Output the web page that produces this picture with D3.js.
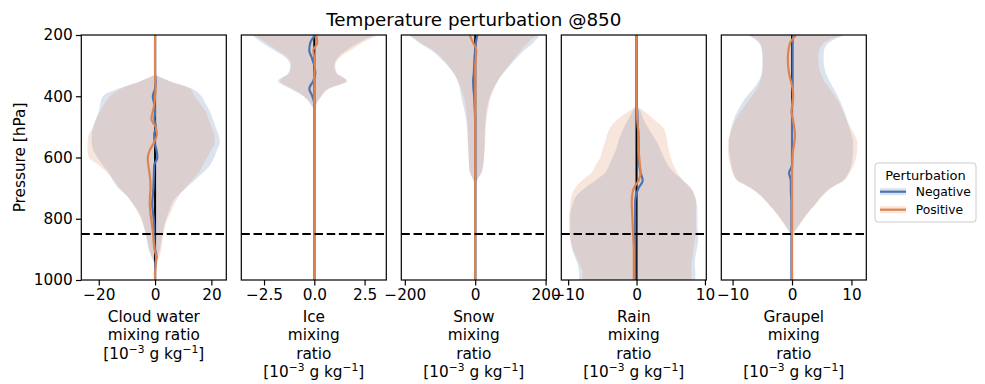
<!DOCTYPE html>
<html>
<head>
<meta charset="utf-8">
<script src="https://cdn.jsdelivr.net/npm/d3@7"></script>
<style>
  body { margin: 0; background: #fff; }
  text { font-family: "DejaVu Sans", sans-serif; fill: #000; }
</style>
</head>
<body>
<svg id="chart"></svg>
<script>
// pressure levels [hPa]
const pressure = [200, 225, 250, 275, 300, 325, 350, 375, 400, 425, 450, 475, 500, 525, 550, 575, 600,
                  625, 650, 675, 700, 725, 750, 775, 800, 825, 850, 875, 900, 925, 950, 975, 1000];

// Cloud water
const cwNegLo = [0, 0, 0, 0, 0, 0, -5, -13, -18.5, -19.5, -20, -21, -22, -22.5, -22.5, -22, -20.5, -18.5, -16.5, -15, -13, -10, -8, -6, -4.8, -4, -3.4, -2.8, -2.3, -1.2, 0, 0, 0];
const cwNegHi = [0, 0, 0, 0, 0, 0, 5, 13, 16.5, 18, 19.5, 20.5, 21.5, 22.5, 23, 22, 21, 19.5, 17, 14, 11, 8, 6, 5, 4, 3.2, 2.7, 2.2, 1.7, 0.8, 0, 0, 0];
const cwNegMean = [0, 0, 0, 0, 0, 0, 0.2, 0, -0.8, -0.3, 0, -0.2, 0.3, -0.3, -0.2, 0.5, 0.8, -0.3, -0.4, -0.5, -0.6, -0.8, -1.0, -0.8, -0.5, -0.3, -0.3, -0.2, 0, 0.5, 0, 0, 0];
const cwPosLo = [0, 0, 0, 0, 0, 0, -5, -12, -16, -18, -19.5, -21, -22, -23.5, -24, -24, -23.5, -20, -17, -14.5, -12.5, -10, -8, -6.5, -5, -4, -3.2, -2.6, -2, -1.2, -0.3, 0, 0];
const cwPosHi = [0, 0, 0, 0, 0, 0, 5, 12.5, 14, 16, 18, 19, 20, 21, 21.2, 20, 18.5, 17, 15.5, 13, 10.5, 8.5, 7, 5.8, 4.5, 3.5, 3, 2.5, 2.2, 1.5, 0.5, 0, 0];
const cwPosMean = [0, 0, 0, 0, 0, 0, 0, 0.2, 0, -0.2, -0.8, -1.3, 0.2, 0.6, -0.3, -1.8, -2.6, -2.4, -2.0, -1.7, -1.6, -1.8, -1.9, -1.7, -1.4, -1.0, -0.7, -0.5, -0.2, 0.4, 0.3, 0, 0];

// Ice
const iceNegLo = [-3.1, -2.6, -2.0, -1.4, -1.2, -1.3, -1.8, -1.2, -0.55, -0.2, 0, 0, 0, 0, 0, 0, 0, 0, 0, 0, 0, 0, 0, 0, 0, 0, 0, 0, 0, 0, 0, 0, 0];
const iceNegHi = [3.0, 2.2, 1.6, 1.15, 1.0, 1.1, 1.6, 0.7, 0.35, 0.1, 0, 0, 0, 0, 0, 0, 0, 0, 0, 0, 0, 0, 0, 0, 0, 0, 0, 0, 0, 0, 0, 0, 0];
const iceNegMean = [0.05, -0.2, -0.25, -0.12, 0, 0.05, -0.05, -0.25, -0.1, 0, 0, 0, 0, 0, 0, 0, 0, 0, 0, 0, 0, 0, 0, 0, 0, 0, 0, 0, 0, 0, 0, 0, 0];
const icePosLo = [-3.0, -2.4, -1.85, -1.3, -1.15, -1.25, -1.7, -1.1, -0.5, -0.15, 0, 0, 0, 0, 0, 0, 0, 0, 0, 0, 0, 0, 0, 0, 0, 0, 0, 0, 0, 0, 0, 0, 0];
const icePosHi = [3.2, 2.4, 1.8, 1.25, 1.05, 1.15, 1.65, 0.75, 0.35, 0.1, 0, 0, 0, 0, 0, 0, 0, 0, 0, 0, 0, 0, 0, 0, 0, 0, 0, 0, 0, 0, 0, 0, 0];
const icePosMean = [0.1, 0.15, -0.05, 0, 0.03, 0, 0, 0, 0, 0, 0, 0, 0, 0, 0, 0, 0, 0, 0, 0, 0, 0, 0, 0, 0, 0, 0, 0, 0, 0, 0, 0, 0];

// Snow
const snowNegLo = [-190, -160, -125, -100, -78, -62, -50, -44, -40, -35, -30, -26, -23, -22, -21, -20, -19, -18, -15, -5, 0, 0, 0, 0, 0, 0, 0, 0, 0, 0, 0, 0, 0];
const snowNegHi = [185, 165, 140, 118, 98, 80, 64, 52, 42, 36, 32, 30, 28, 27, 27, 26, 25, 23, 18, 5, 0, 0, 0, 0, 0, 0, 0, 0, 0, 0, 0, 0, 0];
const snowNegMean = [6, 2, 0, -2, -3, -4, -6, -5, -3, -2, -1, 0, 0, 0, 0, 0, 0, 0, 0, 0, 0, 0, 0, 0, 0, 0, 0, 0, 0, 0, 0, 0, 0];
const snowPosLo = [-185, -155, -120, -95, -76, -60, -48, -40, -33, -28, -25, -23, -22, -21, -20, -19, -18, -17, -14, -5, 0, 0, 0, 0, 0, 0, 0, 0, 0, 0, 0, 0, 0];
const snowPosHi = [175, 150, 130, 112, 95, 78, 64, 54, 45, 40, 35, 32, 30, 29, 28, 27, 25, 22, 17, 4, 0, 0, 0, 0, 0, 0, 0, 0, 0, 0, 0, 0, 0];
const snowPosMean = [-16, -6, 3, 2, 0, 0, 0, 0, 0, 0, 0, 0, 0, 0, 0, 0, 0, 0, 0, 0, 0, 0, 0, 0, 0, 0, 0, 0, 0, 0, 0, 0, 0];

// Rain
const rainNegLo = [0, 0, 0, 0, 0, 0, 0, 0, 0, 0, -0.6, -1.2, -1.8, -2.3, -2.7, -3.0, -3.5, -4.0, -4.6, -6.0, -7.6, -8.8, -9.3, -9.6, -9.7, -9.7, -9.7, -9.6, -9.4, -9.0, -8.6, -8.4, -8.4];
const rainNegHi = [0, 0, 0, 0, 0, 0, 0, 0, 0, 0, 0.6, 1.0, 1.6, 2.3, 3.0, 3.5, 4.0, 4.6, 5.5, 6.8, 7.9, 8.5, 8.8, 8.9, 8.9, 8.9, 9.0, 9.0, 8.8, 8.6, 8.5, 8.6, 8.6];
const rainNegMean = [0, 0, 0, 0, 0, 0, 0, 0, 0, 0, 0.1, 0.15, 0.2, 0.25, 0.3, 0.3, 0.3, 0.4, 0.6, 0.9, 0.3, -0.1, -0.2, -0.2, -0.2, -0.2, -0.2, -0.2, -0.2, -0.2, -0.2, -0.2, -0.2];
const rainPosLo = [0, 0, 0, 0, 0, 0, 0, 0, 0, 0, -1.2, -2.8, -3.8, -4.3, -4.6, -5.0, -5.3, -6.0, -6.6, -8.0, -9.0, -9.5, -9.7, -9.8, -9.9, -9.9, -9.8, -9.6, -9.3, -8.8, -8.3, -7.9, -7.9];
const rainPosHi = [0, 0, 0, 0, 0, 0, 0, 0, 0, 0, 1.2, 2.5, 3.8, 4.3, 4.5, 4.7, 5.0, 5.4, 6.0, 6.8, 8.0, 8.5, 8.7, 8.7, 8.7, 8.7, 8.6, 8.5, 8.3, 8.2, 8.0, 8.0, 8.0];
const rainPosMean = [0, 0, 0, 0, 0, 0, 0, 0, 0, 0, 0.05, 0.1, 0.2, 0.3, 0.3, 0.3, 0.4, 0.5, 0.6, 0.3, -0.4, -0.65, -0.7, -0.65, -0.6, -0.55, -0.5, -0.45, -0.4, -0.4, -0.4, -0.4, -0.4];

// Graupel
const grNegLo = [-7.4, -5.6, -5.1, -5.0, -5.0, -5.1, -5.6, -6.5, -7.6, -8.5, -9.2, -9.8, -10.2, -10.4, -10.6, -10.6, -10.4, -10.2, -9.9, -9.1, -6.8, -5.2, -4.0, -2.9, -1.9, -1.0, -0.2, 0, 0, 0, 0, 0, 0];
const grNegHi = [8.8, 6.2, 5.4, 5.3, 5.4, 5.7, 6.3, 7.0, 7.7, 8.3, 8.8, 9.2, 9.6, 10.0, 10.3, 10.3, 10.2, 10.0, 9.5, 8.6, 6.4, 5.0, 4.0, 2.9, 1.9, 1.0, 0.2, 0, 0, 0, 0, 0, 0];
const grNegMean = [0.2, 0.1, 0.1, 0.1, 0.1, 0.1, 0.1, 0.1, 0.1, 0.05, 0, 0, 0, 0, 0, 0, 0, 0, -0.5, -0.2, -0.2, -0.15, -0.1, -0.1, -0.1, -0.1, -0.1, -0.1, -0.1, -0.1, -0.1, -0.1, -0.1];
const grPosLo = [-7.2, -5.4, -5.0, -4.9, -4.9, -5.0, -5.3, -5.9, -6.8, -7.7, -8.6, -9.4, -10.0, -10.5, -10.8, -10.8, -10.7, -10.4, -10.0, -9.3, -7.0, -5.3, -4.1, -3.0, -2.0, -1.1, -0.3, 0, 0, 0, 0, 0, 0];
const grPosHi = [8.6, 5.4, 4.6, 4.4, 4.5, 4.8, 5.4, 6.3, 7.2, 8.0, 8.6, 9.2, 9.8, 10.5, 11.0, 11.0, 10.8, 10.4, 9.7, 8.8, 6.6, 5.2, 4.1, 3.0, 2.0, 1.1, 0.3, 0, 0, 0, 0, 0, 0];
const grPosMean = [0.7, -0.3, -0.6, -0.7, -0.65, -0.5, -0.2, 0.1, 0.2, 0.05, -0.1, 0.15, 0.35, 0.5, 0.4, 0.2, 0.1, 0.05, 0, 0, 0, 0, 0, 0, 0, 0, 0, 0, 0, 0, 0, 0, 0];

// axis ticks / names
const yTicks = [200, 400, 600, 800, 1000];
const cwTicks = [-20, 0, 20];
const iceTicks = [-2.5, 0, 2.5];
const snowTicks = [-200, 0, 200];
const rainTicks = [-10, 0, 10];
const grTicks = [-10, 0, 10];
const seriesNames = ["Negative", "Positive"];
const seriesColors = ["#4c72b0", "#dd8452"];
const level = 850;

const width = 985, height = 384;
const plotTop = 35, plotBottom = 280;
const panelW = 145, panelStep = 160, firstLeft = 81.3;

const panels = [
    { name: ["Cloud water", "mixing ratio"], domain: [-26.2, 25.3], ticks: cwTicks, fmt: d3.format("d"),
      series: [{ lo: cwNegLo, hi: cwNegHi, mean: cwNegMean }, { lo: cwPosLo, hi: cwPosHi, mean: cwPosMean }] },
    { name: ["Ice", "mixing", "ratio"], domain: [-3.63, 3.58], ticks: iceTicks, fmt: d3.format(".1f"),
      series: [{ lo: iceNegLo, hi: iceNegHi, mean: iceNegMean }, { lo: icePosLo, hi: icePosHi, mean: icePosMean }] },
    { name: ["Snow", "mixing", "ratio"], domain: [-210, 202], ticks: snowTicks, fmt: d3.format("d"),
      series: [{ lo: snowNegLo, hi: snowNegHi, mean: snowNegMean }, { lo: snowPosLo, hi: snowPosHi, mean: snowPosMean }] },
    { name: ["Rain", "mixing", "ratio"], domain: [-11.0, 10.2], ticks: rainTicks, fmt: d3.format("d"),
      series: [{ lo: rainNegLo, hi: rainNegHi, mean: rainNegMean }, { lo: rainPosLo, hi: rainPosHi, mean: rainPosMean }] },
    { name: ["Graupel", "mixing", "ratio"], domain: [-11.9, 12.5], ticks: grTicks, fmt: d3.format("d"),
      series: [{ lo: grNegLo, hi: grNegHi, mean: grNegMean }, { lo: grPosLo, hi: grPosHi, mean: grPosMean }] }
];

const svg = d3.select("#chart").attr("width", width).attr("height", height);
const yScale = d3.scaleLinear().domain([200, 1000]).range([plotTop, plotBottom]);

panels.forEach((pn, k) => {
    const left = firstLeft + k * panelStep;
    const xScale = d3.scaleLinear().domain(pn.domain).range([left, left + panelW]);
    const g = svg.append("g");

    g.append("clipPath").attr("id", "clip" + k)
        .append("rect").attr("x", left).attr("y", plotTop).attr("width", panelW).attr("height", plotBottom - plotTop);
    const plot = g.append("g").attr("clip-path", `url(#clip${k})`);

    const rows = pn.series.map(s => pressure.map((p, i) => ({ p: p, lo: s.lo[i], hi: s.hi[i], mean: s.mean[i] })));

    const area = d3.area()
        .y(d => yScale(d.p)).x0(d => xScale(d.lo)).x1(d => xScale(d.hi))
        .curve(d3.curveMonotoneY);
    const line = d3.line()
        .y(d => yScale(d.p)).x(d => xScale(d.mean))
        .curve(d3.curveMonotoneY);

    rows.forEach((r, j) => {
        plot.append("path").attr("d", area(r))
            .attr("fill", seriesColors[j]).attr("fill-opacity", 0.2);
    });

    plot.append("line")
        .attr("x1", xScale(0)).attr("x2", xScale(0))
        .attr("y1", plotTop).attr("y2", plotBottom)
        .attr("stroke", "#000").attr("stroke-width", 2);

    rows.forEach((r, j) => {
        plot.append("path").attr("d", line(r))
            .attr("fill", "none").attr("stroke", seriesColors[j]).attr("stroke-width", 2.2);
    });

    plot.append("line")
        .attr("x1", left).attr("x2", left + panelW)
        .attr("y1", yScale(level)).attr("y2", yScale(level))
        .attr("stroke", "#000").attr("stroke-width", 2).attr("stroke-dasharray", "8.5,3.7");

    // x axis
    const xAxis = g.append("g").attr("transform", `translate(0,${plotBottom})`)
        .call(d3.axisBottom(xScale).tickValues(pn.ticks).tickFormat(pn.fmt).tickSize(5.4).tickPadding(3.7));
    xAxis.select(".domain").remove();
    xAxis.selectAll("line").attr("stroke", "#000").attr("stroke-width", 1.2);
    xAxis.selectAll("text").attr("font-size", 15.3).attr("font-family", "DejaVu Sans").attr("fill", "#000");

    if (k === 0) {
        const yAxis = g.append("g").attr("transform", `translate(${left},0)`)
            .call(d3.axisLeft(yScale).tickValues(yTicks).tickFormat(d3.format("d")).tickSize(5.4).tickPadding(3.2));
        yAxis.select(".domain").remove();
        yAxis.selectAll("line").attr("stroke", "#000").attr("stroke-width", 1.2);
        yAxis.selectAll("text").attr("font-size", 15.3).attr("font-family", "DejaVu Sans").attr("fill", "#000");
    }

    // frame
    g.append("rect")
        .attr("x", left).attr("y", plotTop).attr("width", panelW).attr("height", plotBottom - plotTop)
        .attr("fill", "none").attr("stroke", "#000").attr("stroke-width", 1.2);

    // x label
    const cx = left + panelW / 2;
    const lines = pn.name.length;
    pn.name.forEach((t, i) => {
        g.append("text").attr("x", cx).attr("y", 322 + i * 18.4)
            .attr("text-anchor", "middle").attr("font-size", 15.3).text(t);
    });
    const unit = g.append("text").attr("x", cx).attr("y", 322 + lines * 18.4)
        .attr("text-anchor", "middle").attr("font-size", 15.3);
    unit.append("tspan").text("[10");
    unit.append("tspan").attr("dy", -6).attr("font-size", 10.7).text("\u22123");
    unit.append("tspan").attr("dy", 6).text(" g kg");
    unit.append("tspan").attr("dy", -6).attr("font-size", 10.7).text("\u22121");
    unit.append("tspan").attr("dy", 6).text("]");
});

// y label
svg.append("text")
    .attr("transform", `translate(24.5,${(plotTop + plotBottom) / 2}) rotate(-90)`)
    .attr("text-anchor", "middle").attr("font-size", 15.3)
    .text("Pressure [hPa]");

// title
svg.append("text")
    .attr("x", firstLeft + (4 * panelStep + panelW) / 2).attr("y", 25.5)
    .attr("text-anchor", "middle").attr("font-size", 18.3)
    .text("Temperature perturbation @850");

// legend
const legend = svg.append("g").attr("transform", "translate(875,163)");
legend.append("rect")
    .attr("width", 101).attr("height", 59).attr("rx", 3)
    .attr("fill", "#fff").attr("fill-opacity", 0.8)
    .attr("stroke", "#cccccc").attr("stroke-width", 1);
legend.append("text").attr("x", 50.5).attr("y", 16.5)
    .attr("text-anchor", "middle").attr("font-size", 13).text("Perturbation");
seriesNames.forEach((nm, j) => {
    const yy = 28.7 + j * 18;
    legend.append("rect").attr("x", 5).attr("y", yy - 3.5).attr("width", 26).attr("height", 7)
        .attr("fill", seriesColors[j]).attr("fill-opacity", 0.2);
    legend.append("line").attr("x1", 5).attr("x2", 31).attr("y1", yy).attr("y2", yy)
        .attr("stroke", seriesColors[j]).attr("stroke-width", 2.2);
    legend.append("text").attr("x", 40.7).attr("y", yy + 4.3)
        .attr("font-size", 12.3).text(nm);
});
</script>
</body>
</html>
